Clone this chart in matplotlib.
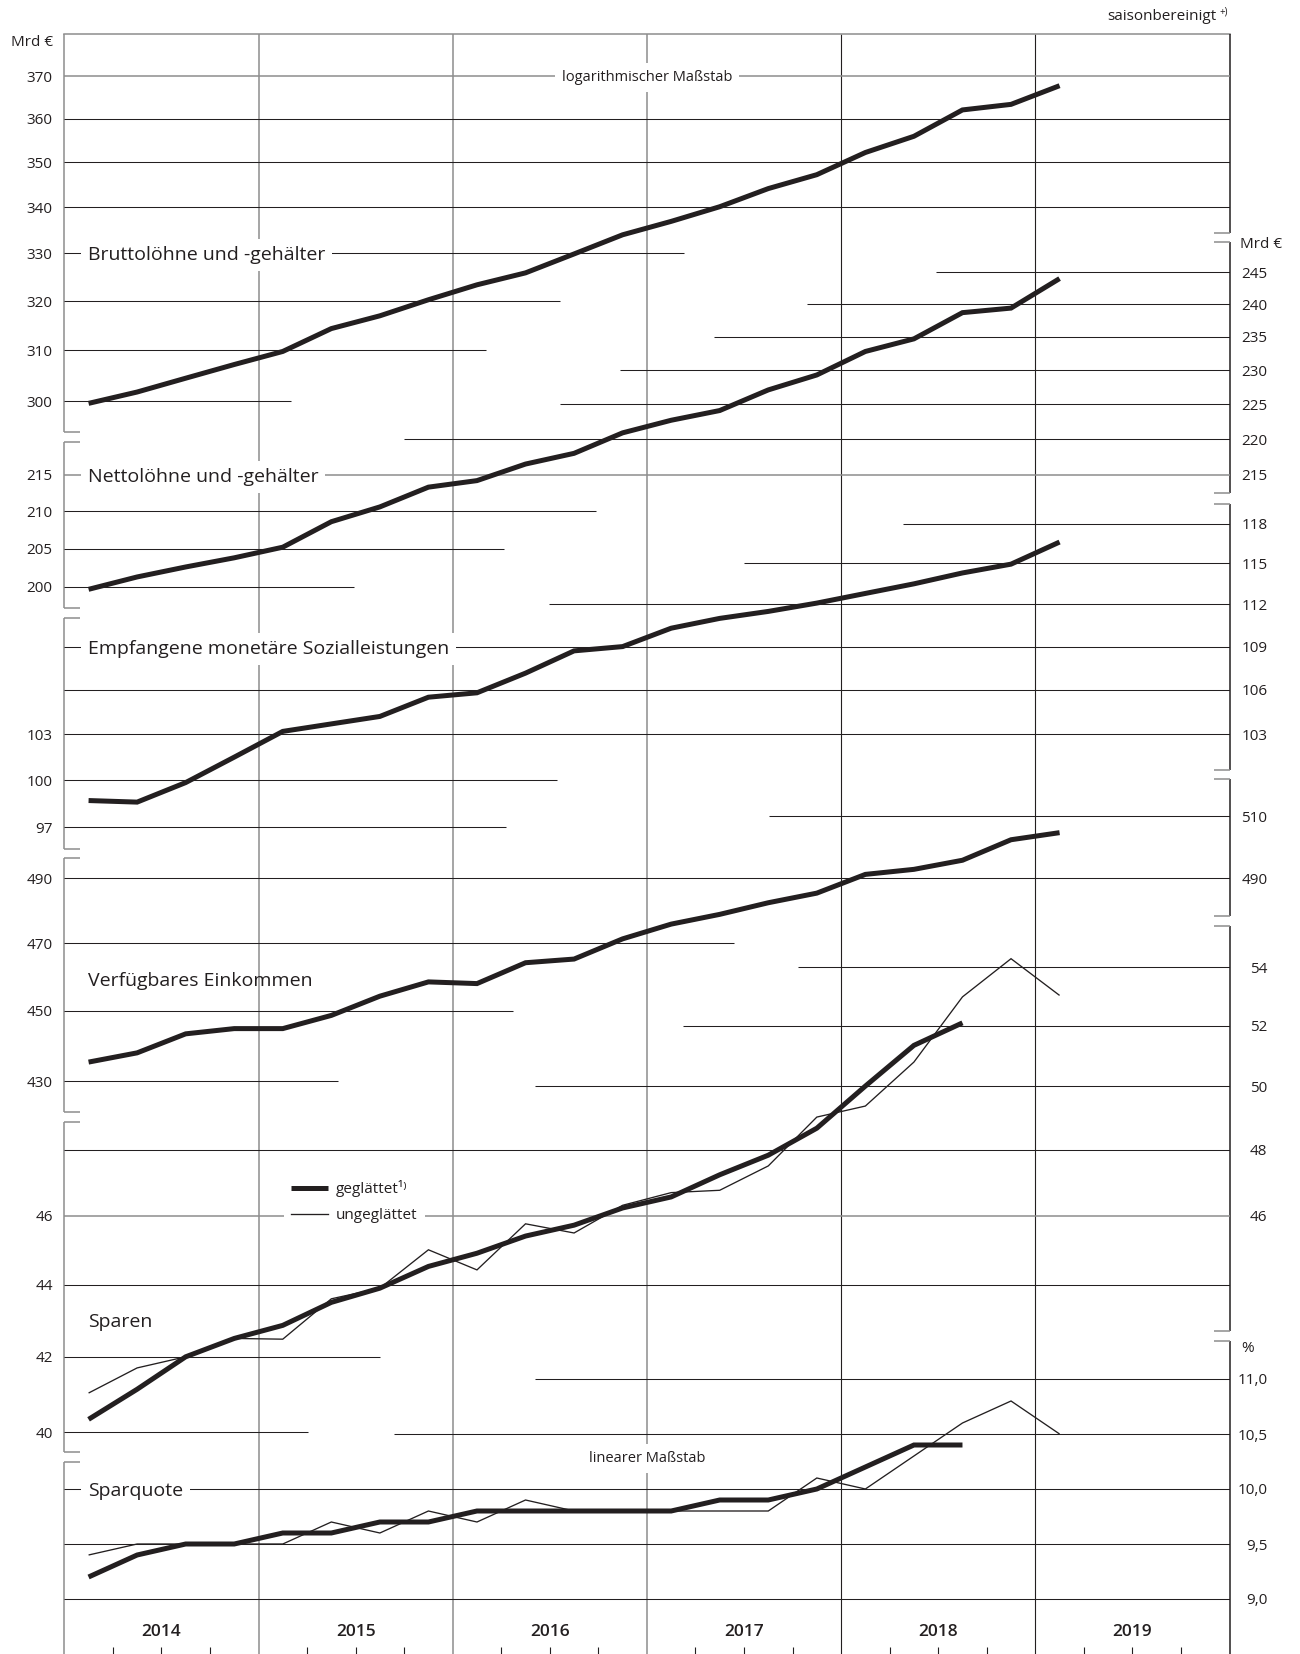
import numpy as np
import pandas as pd
import matplotlib
matplotlib.use("Agg")
import matplotlib.pyplot as plt
from matplotlib.lines import Line2D
from matplotlib.transforms import offset_copy

plt.rcParams['font.family'] = ['Open Sans', 'DejaVu Sans']

# ---------------- data ----------------
years = [2014, 2015, 2016, 2017, 2018, 2019]
periods = pd.period_range('2014Q1', '2019Q1', freq='Q')

brutto = [299.6, 301.8, 304.5, 307.2, 309.8, 314.4, 317.0, 320.3, 323.4, 325.9, 329.9,
          334.0, 336.9, 340.1, 344.1, 347.2, 352.2, 355.9, 362.0, 363.3, 367.7]
netto = [199.7, 201.3, 202.6, 203.8, 205.2, 208.6, 210.6, 213.3, 214.2, 216.5, 218.0,
         220.9, 222.7, 224.1, 227.1, 229.3, 232.8, 234.7, 238.7, 239.4, 244.0]
sozial = [98.7, 98.6, 99.85, 101.5, 103.2, 103.7, 104.2, 105.5, 105.8, 107.15, 108.7,
          109.0, 110.3, 111.0, 111.5, 112.1, 112.8, 113.5, 114.3, 114.95, 116.6]
verfuegbar = [435.3, 437.9, 443.3, 444.8, 444.8, 448.6, 454.2, 458.4, 457.9, 464.1, 465.2,
              471.3, 475.8, 478.8, 482.4, 485.4, 491.3, 492.9, 495.8, 502.4, 504.7]
sparen_glatt = [40.34, 41.13, 42.0, 42.5, 42.86, 43.5, 43.9, 44.52, 44.9, 45.4, 45.72,
                46.23, 46.56, 47.23, 47.83, 48.67, 50.01, 51.34, 52.09]
sparen_roh = [41.03, 41.7, 42.0, 42.5, 42.48, 43.6, 43.9, 45.0, 44.42, 45.76, 45.49,
              46.31, 46.69, 46.76, 47.5, 49.02, 49.37, 50.79, 52.97, 54.29, 53.02]
quote_glatt = [9.2, 9.4, 9.5, 9.5, 9.6, 9.6, 9.7, 9.7, 9.8, 9.8, 9.8,
               9.8, 9.8, 9.9, 9.9, 10.0, 10.2, 10.4, 10.4]
quote_roh = [9.4, 9.5, 9.5, 9.5, 9.5, 9.7, 9.6, 9.8, 9.7, 9.9, 9.8,
             9.8, 9.8, 9.8, 9.8, 10.1, 10.0, 10.3, 10.6, 10.8, 10.5]

brutto_left = [300, 310, 320, 330, 340, 350, 360, 370]
netto_left = [200, 205, 210, 215]
netto_right = [215, 220, 225, 230, 235, 240, 245]
sozial_left = [97, 100, 103]
sozial_right = [103, 106, 109, 112, 115, 118]
verf_left = [430, 450, 470, 490]
verf_right = [490, 510]
sparen_left = [40, 42, 44, 46]
sparen_right = [46, 48, 50, 52, 54]
quote_right = [9.0, 9.5, 10.0, 10.5, 11.0]

# ---------------- layout / style ----------------
BLACK = '#231f20'
GRAY = '#8d8d8d'
W, H, DPI = 1300, 1654, 100
X0, X1, YT, YB = 64.3, 1229.5, 34.0, 1654.0
K = 1551.0            # pixels per ln-unit of the ratio scale
AXW, AXH = X1 - X0, YB - YT
FS_TICK, FS_LAB, FS_SMALL = 11, 14, 10.5
LW_THICK, LW_THIN, LW_GRID = 3.6, 0.95, 0.75

fig = plt.figure(figsize=(W / DPI, H / DPI), dpi=DPI)
fig.patch.set_facecolor('white')
RECT = [X0 / W, 1 - YB / H, AXW / W, AXH / H]


def fx(px):
    return (px - X0) / AXW


def fy(py):
    return (YB - py) / AXH


def yr(px):
    return 2014 + (px - X0) / (AXW / 6)


xq = np.array([p.year + (p.quarter - 0.5) / 4 for p in periods])

# base axes: frame, year lines, ticks
base = fig.add_axes(RECT, label='base')
base.set_xlim(2014, 2020)
base.set_ylim(0, 1)
base.set_axis_off()
line_cols = {2015: GRAY, 2016: GRAY, 2017: GRAY, 2018: BLACK, 2019: BLACK}
for y in years[1:]:
    base.plot([y, y], [0, 1], color=line_cols[y], lw=1.1 if line_cols[y] == GRAY else 0.8,
              zorder=1, solid_capstyle='butt')
base.plot([2014, 2020], [1, 1], color=GRAY, lw=1.1, clip_on=False, zorder=1)
qt = [y + q / 4 for y in years for q in (1, 2, 3)]
base.vlines(qt, 0, 7 / AXH, color=BLACK, lw=0.8)
for y in years:
    base.text(y + 0.5, fy(1632), str(y), ha='center', va='center',
              fontsize=12.5, color=BLACK, fontweight='semibold')

left_segments = [(YT, 432.3), (441.7, 607.8), (617.8, 848.5), (858.4, 1112.4),
                 (1121.9, 1451.6), (1461.5, YB)]
right_segments = [(YT, 232.7), (242.3, 493.3), (503.7, 769.6), (779.5, 915.7),
                  (925.7, 1331.4), (1341.3, YB)]
TICK = 16 / AXW
TA = base.transAxes
for side, segs, col in (('left', left_segments, GRAY), ('right', right_segments, BLACK)):
    x = 0 if side == 'left' else 1
    dx = TICK if side == 'left' else -TICK
    for (pt, pb) in segs:
        base.plot([x, x], [fy(pb), fy(pt)], color=col, lw=1.1, clip_on=False,
                  solid_capstyle='butt', transform=TA)
        for p in (pt, pb):
            if p not in (YT, YB):
                base.plot([x, x + dx], [fy(p), fy(p)], color=GRAY, lw=1.1,
                          clip_on=False, solid_capstyle='butt', transform=TA)

base.text(fx(52.7), fy(42), 'Mrd €', ha='right', va='center', fontsize=FS_TICK,
          color=BLACK, transform=TA)
base.text(fx(1240), fy(245), 'Mrd €', ha='left', va='center', fontsize=FS_TICK,
          color=BLACK, transform=TA)
base.text(fx(1241), fy(1348), '%', ha='left', va='center', fontsize=FS_TICK,
          color=BLACK, transform=TA)
fig.text(1217 / W, 1 - 17 / H, 'saisonbereinigt', ha='right', va='center',
         fontsize=FS_TICK, color=BLACK)
fig.text(1219 / W, 1 - 12 / H, '+)', ha='left', va='center', fontsize=7, color=BLACK)


def panel_axes(name, v0, p0, ppu=None):
    ax = fig.add_axes(RECT, label=name)
    ax.set_xlim(2014, 2020)
    if ppu is None:
        ax.set_yscale('log')
        ax.set_ylim(v0 * np.exp(-(YB - p0) / K), v0 * np.exp((p0 - YT) / K))
    else:
        ax.set_ylim(v0 - (YB - p0) / ppu, v0 + (p0 - YT) / ppu)
    ax.set_axis_off()
    return ax


def grid(ax, v, x0=2014, x1=2020, color=BLACK, lw=LW_GRID):
    ax.hlines(v, x0, x1, color=color, lw=lw, zorder=1)


def ticklabels(ax, vals, side, fmt='{:g}'):
    tr = offset_copy(ax.get_yaxis_transform(), fig=fig, y=-0.36 * FS_TICK, units='points')
    xx = fx(52.7) if side == 'left' else fx(1267.5)
    for v in vals:
        ax.text(xx, v, fmt.format(v).replace('.', ','), transform=tr, ha='right',
                va='baseline', fontsize=FS_TICK, color=BLACK)


LAB_X = yr(87.7)


def label(ax, v, s, x=LAB_X, ha='left', fs=FS_LAB, box=True):
    tr = offset_copy(ax.transData, fig=fig, y=-0.36 * fs, units='points')
    kw = dict(bbox=dict(facecolor='white', edgecolor='none', pad=5)) if box else {}
    ax.text(x, v, s, transform=tr, ha=ha, va='baseline', fontsize=fs, color=BLACK,
            zorder=4, **kw)


def series(ax, x, y, lw):
    ax.plot(x, y, color=BLACK, lw=lw, zorder=3, solid_capstyle='butt',
            solid_joinstyle='miter')


# --- Bruttolöhne ---
ax = panel_axes('brutto', 300, 401.3)
grid(ax, 370, color=GRAY, lw=1.1)
for v in (360, 350, 340):
    grid(ax, v)
grid(ax, 330, x1=yr(684))
grid(ax, 320, x1=yr(560))
grid(ax, 310, x1=yr(486))
grid(ax, 300, x1=yr(291))
ticklabels(ax, brutto_left, 'left')
label(ax, 330, 'Bruttolöhne und -gehälter')
label(ax, 370, 'logarithmischer Maßstab', x=2017, ha='center', fs=FS_SMALL)
series(ax, xq, brutto, LW_THICK)

# --- Nettolöhne ---
ax = panel_axes('netto', 200, 587.0)
grid(ax, 215, color=GRAY, lw=1.1)
grid(ax, 210, x1=yr(595.7))
grid(ax, 205, x1=yr(504))
grid(ax, 200, x1=yr(354))
grid(ax, 220, x0=yr(404))
grid(ax, 225, x0=yr(560))
grid(ax, 230, x0=yr(620))
grid(ax, 235, x0=yr(714))
grid(ax, 240, x0=yr(807))
grid(ax, 245, x0=yr(936))
ticklabels(ax, netto_left, 'left')
ticklabels(ax, netto_right, 'right')
label(ax, 215, 'Nettolöhne und -gehälter')
series(ax, xq, netto, LW_THICK)

# --- Sozialleistungen ---
ax = panel_axes('sozial', 103, 734.4)
grid(ax, 109)
grid(ax, 106)
grid(ax, 103)
grid(ax, 100, x1=yr(556.7))
grid(ax, 97, x1=yr(505.7))
grid(ax, 112, x0=yr(549))
grid(ax, 115, x0=yr(744))
grid(ax, 118, x0=yr(902.7))
ticklabels(ax, sozial_left, 'left')
ticklabels(ax, sozial_right, 'right')
label(ax, 109, 'Empfangene monetäre Sozialleistungen')
series(ax, xq, sozial, LW_THICK)

# --- Verfügbares Einkommen ---
ax = panel_axes('verf', 490, 878.5)
grid(ax, 490)
grid(ax, 470, x1=yr(734.3))
grid(ax, 450, x1=yr(512.7))
grid(ax, 430, x1=yr(337.7))
grid(ax, 510, x0=yr(769))
ticklabels(ax, verf_left, 'left')
ticklabels(ax, verf_right, 'right')
label(ax, 459.4, 'Verfügbares Einkommen', box=False)
series(ax, xq, verfuegbar, LW_THICK)

# --- Sparen ---
ax_sp = panel_axes('sparen', 46, 1215.7)
grid(ax_sp, 48)
grid(ax_sp, 46, color=GRAY, lw=1.1)
grid(ax_sp, 44)
grid(ax_sp, 42, x1=yr(380))
grid(ax_sp, 40, x1=yr(307.7))
grid(ax_sp, 50, x0=yr(535))
grid(ax_sp, 52, x0=yr(683))
grid(ax_sp, 54, x0=yr(798))
ticklabels(ax_sp, sparen_left, 'left')
ticklabels(ax_sp, sparen_right, 'right')
label(ax_sp, 43.0, 'Sparen', box=False)
series(ax_sp, xq, sparen_roh, LW_THIN)
series(ax_sp, xq[:len(sparen_glatt)], sparen_glatt, LW_THICK)
handles = [Line2D([], [], color=BLACK, lw=LW_THICK, solid_capstyle='butt'),
           Line2D([], [], color=BLACK, lw=LW_THIN)]
leg = ax_sp.legend(handles, ['geglättet¹⁾', 'ungeglättet'], loc='upper left',
                   bbox_to_anchor=(fx(284.3), fy(1173)), bbox_transform=ax_sp.transAxes,
                   frameon=True, fancybox=False, edgecolor='none', facecolor='white',
                   framealpha=1, fontsize=FS_TICK, handlelength=2.42, handletextpad=0.52,
                   borderpad=0.45, labelspacing=0.74, borderaxespad=0)
for t in leg.get_texts():
    t.set_color(BLACK)

# --- Sparquote (linear) ---
ax = panel_axes('quote', 10.0, 1489.0, ppu=110.0)
grid(ax, 10.0)
grid(ax, 9.5)
grid(ax, 9.0)
grid(ax, 10.5, x0=yr(394))
grid(ax, 11.0, x0=yr(535))
ticklabels(ax, quote_right, 'right', fmt='{:.1f}')
label(ax, 10.0, 'Sparquote')
label(ax, 10.29, 'linearer Maßstab', x=2017, ha='center', fs=FS_SMALL)
series(ax, xq, quote_roh, LW_THIN)
series(ax, xq[:len(quote_glatt)], quote_glatt, LW_THICK)

fig.savefig('out.png', dpi=DPI, facecolor='white')
